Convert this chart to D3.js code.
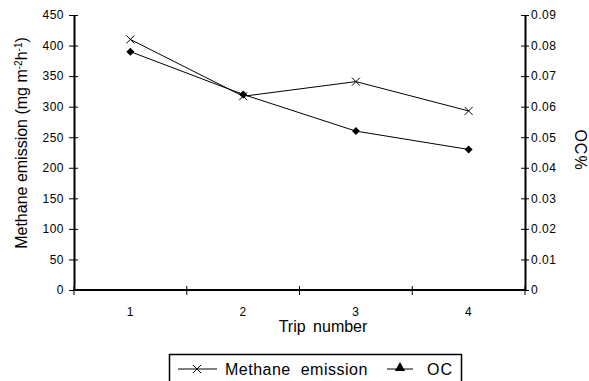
<!DOCTYPE html>
<html>
<head>
<meta charset="utf-8">
<script src="https://cdn.jsdelivr.net/npm/d3@7"></script>
<style>
  body { margin: 0; background: #fff; }
  svg { font-family: "Liberation Sans", Arial, sans-serif; }
  .axis path, .axis line { stroke: #000; }
  .axis text { font-size: 12px; fill: #000; letter-spacing: 0.5px; }
</style>
</head>
<body>
<script>
// chart data
var trips = ["1", "2", "3", "4"];
var methane = [410, 317, 341, 293];
var oc = [0.078, 0.064, 0.052, 0.046];
var leftTicks = [0, 50, 100, 150, 200, 250, 300, 350, 400, 450];
var rightTicks = [0, 0.01, 0.02, 0.03, 0.04, 0.05, 0.06, 0.07, 0.08, 0.09];

var width = 589, height = 381;
var mLeft = 74, mRight = 525, mTop = 15, mBottom = 290;

var svg = d3.select("body").append("svg")
    .attr("width", width)
    .attr("height", height);

var x = d3.scaleBand().domain(trips).range([mLeft, mRight]);
var yL = d3.scaleLinear().domain([0, 450]).range([mBottom, mTop]);
var yR = d3.scaleLinear().domain([0, 0.09]).range([mBottom, mTop]);

//left axis
var gL = svg.append("g").attr("class", "axis")
    .attr("transform", "translate(" + mLeft + ",0)")
    .call(d3.axisLeft(yL).tickValues(leftTicks).tickSize(4).tickSizeOuter(0));
gL.selectAll(".tick line").attr("x2", 4).attr("x1", -5);
gL.selectAll(".tick text").attr("x", -10);

//right axis
var gR = svg.append("g").attr("class", "axis")
    .attr("transform", "translate(" + mRight + ",0)")
    .call(d3.axisRight(yR).tickValues(rightTicks)
        .tickFormat(function(d){ return d === 0 ? "0" : d3.format(".2f")(d); })
        .tickSize(4).tickSizeOuter(0));
gR.selectAll(".tick line").attr("x1", -4).attr("x2", 4);
gR.selectAll(".tick text").attr("x", 6);

//x axis with ticks between categories
var gX = svg.append("g").attr("class", "axis")
    .attr("transform", "translate(0," + mBottom + ")");
gX.append("line").attr("x1", mLeft - 1).attr("x2", mRight + 1)
    .attr("stroke", "#000").attr("stroke-width", 2);
var bounds = trips.map(function(t){ return x(t); }).concat([mRight]);
gX.selectAll(".xt").data(bounds).enter().append("line")
    .attr("x1", function(d){ return d; }).attr("x2", function(d){ return d; })
    .attr("y1", -4).attr("y2", 5).attr("stroke", "#000");
gX.selectAll(".xl").data(trips).enter().append("text")
    .attr("x", function(d){ return x(d) + x.bandwidth() / 2; })
    .attr("y", 26).attr("text-anchor", "middle")
    .text(function(d){ return d; });

svg.selectAll(".axis .domain").attr("stroke-width", 2);

//lines
var cx = function(d, i){ return x(trips[i]) + x.bandwidth() / 2; };
svg.append("path").datum(methane)
    .attr("fill", "none").attr("stroke", "#000").attr("stroke-width", 1)
    .attr("d", d3.line().x(cx).y(function(d){ return yL(d); }));
svg.append("path").datum(oc)
    .attr("fill", "none").attr("stroke", "#000").attr("stroke-width", 1)
    .attr("d", d3.line().x(cx).y(function(d){ return yR(d); }));

//markers
var cross = "M-4,-4L4,4M-4,4L4,-4";
var diamond = "M0,-4L4,0L0,4L-4,0Z";
svg.selectAll(".mx").data(methane).enter().append("path")
    .attr("transform", function(d, i){ return "translate(" + cx(d, i) + "," + yL(d) + ")"; })
    .attr("d", cross).attr("stroke", "#000").attr("fill", "none");
svg.selectAll(".mo").data(oc).enter().append("path")
    .attr("transform", function(d, i){ return "translate(" + cx(d, i) + "," + yR(d) + ")"; })
    .attr("d", diamond).attr("fill", "#000");

//axis titles
svg.append("text").attr("transform", "translate(27,143) rotate(-90)")
    .attr("text-anchor", "middle").style("font-size", "16px")
    .html('Methane emission (mg m<tspan baseline-shift="super" font-size="10px">-2</tspan>h<tspan baseline-shift="super" font-size="10px">-1</tspan>)');
svg.append("text").attr("transform", "translate(575,150) rotate(90)")
    .attr("text-anchor", "middle").style("font-size", "16px").style("letter-spacing", "1px").text("OC%");
svg.append("text").attr("x", 323).attr("y", 332)
    .attr("text-anchor", "middle").style("font-size", "16px").style("word-spacing", "3px").text("Trip number");

//legend
var lg = svg.append("g");
lg.append("rect").attr("x", 169.5).attr("y", 354.5).attr("width", 292).attr("height", 30)
    .attr("fill", "#fff").attr("stroke", "#000").attr("stroke-width", 1.5);
lg.append("line").attr("x1", 178).attr("x2", 217).attr("y1", 369).attr("y2", 369).attr("stroke", "#000");
lg.append("path").attr("transform", "translate(197,369)")
    .attr("d", cross).attr("stroke", "#000");
lg.append("text").attr("x", 225).attr("y", 375).style("font-size", "16px")
    .style("word-spacing", "5px").style("letter-spacing", "0.5px").text("Methane emission");
lg.append("line").attr("x1", 387).attr("x2", 413).attr("y1", 369).attr("y2", 369).attr("stroke", "#000");
lg.append("path").attr("transform", "translate(400,368)")
    .attr("d", d3.symbol().type(d3.symbolTriangle).size(45)).attr("fill", "#000");
lg.append("text").attr("x", 427).attr("y", 375).style("font-size", "16px").style("letter-spacing", "1px").text("OC");
</script>
</body>
</html>
